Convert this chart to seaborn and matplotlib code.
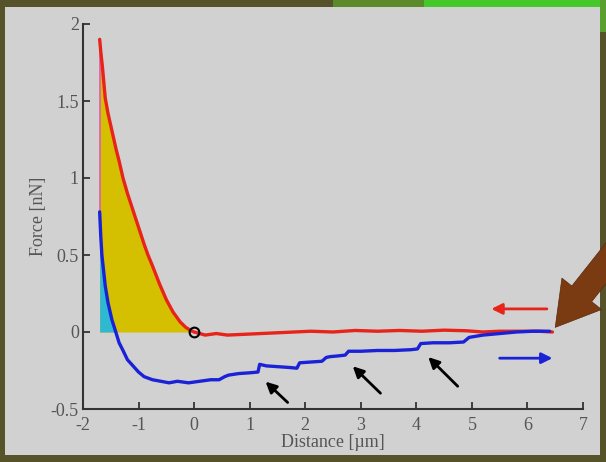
import matplotlib
matplotlib.use("Agg")
import matplotlib.pyplot as plt
from matplotlib.patches import Rectangle
import seaborn as sns
import pandas as pd

# ---- data ----
red_x = [-1.70, -1.68, -1.65, -1.60, -1.55, -1.50, -1.45, -1.40, -1.35, -1.28, -1.20,
         -1.10, -1.00, -0.90, -0.83, -0.75, -0.62, -0.50, -0.38, -0.25, -0.15, -0.05,
         0.00, 0.10, 0.20, 0.40, 0.60, 0.90, 1.20,
         1.50, 1.80, 2.10, 2.50, 2.90, 3.30, 3.70, 4.10, 4.50, 4.90, 5.20, 5.50, 5.90,
         6.20, 6.45]
red_f = [1.90, 1.82, 1.72, 1.52, 1.42, 1.34, 1.26, 1.18, 1.11, 1.00, 0.90,
         0.79, 0.68, 0.57, 0.50, 0.43, 0.31, 0.21, 0.13, 0.065, 0.03, 0.008,
         0.00, -0.01, -0.02, -0.01, -0.02, -0.015, -0.01,
         -0.005, 0.00, 0.005, 0.00, 0.01, 0.005, 0.01, 0.005, 0.012, 0.008, 0.00, 0.005,
         0.005, 0.005, 0.00]

blue_x = [-1.70, -1.68, -1.66, -1.60, -1.55, -1.48, -1.41, -1.35, -1.28, -1.20, -1.10,
          -1.00, -0.90, -0.75, -0.60, -0.45, -0.30, -0.10, 0.10, 0.30, 0.45, 0.55, 0.62,
          0.80, 1.00, 1.15, 1.18, 1.30, 1.50, 1.70, 1.85, 1.90, 2.10, 2.30, 2.38, 2.45,
          2.60, 2.72, 2.78, 3.00, 3.30, 3.60, 3.90, 4.02, 4.08, 4.30, 4.60, 4.85, 4.95,
          5.20, 5.50, 5.80, 6.10, 6.40]
blue_f = [0.78, 0.62, 0.50, 0.30, 0.19, 0.08, 0.00, -0.07, -0.12, -0.18, -0.22,
          -0.26, -0.29, -0.31, -0.32, -0.33, -0.32, -0.33, -0.32, -0.31, -0.31, -0.29, -0.28,
          -0.27, -0.265, -0.26, -0.21, -0.22, -0.225, -0.23, -0.235, -0.20, -0.195, -0.19,
          -0.165, -0.16, -0.155, -0.15, -0.125, -0.125, -0.12, -0.12, -0.115, -0.11, -0.075,
          -0.07, -0.07, -0.065, -0.035, -0.02, -0.01, 0.00, 0.005, 0.005]

x_ticks = [-2, -1, 0, 1, 2, 3, 4, 5, 6, 7]
y_ticks = [-0.5, 0, 0.5, 1, 1.5, 2]
x_tick_labels = ["-2", "-1", "0", "1", "2", "3", "4", "5", "6", "7"]
y_tick_labels = ["-0.5", "0", "0.5", "1", "1.5", "2"]
contact_point = (0.0, 0.0)

# black step arrows: (tail_x, tail_f, head_x, head_f)
step_arrows = [(1.72, -0.47, 1.25, -0.31),
               (3.39, -0.41, 2.82, -0.21),
               (4.78, -0.365, 4.18, -0.15)]

# ---- style ----
sns.set_theme(style="white")
plt.rcParams["font.family"] = ["Liberation Serif", "DejaVu Serif"]

PANEL = "#d1d1d1"
TXT = "#555555"

fig = plt.figure(figsize=(6.06, 4.62), dpi=100)
fig.patch.set_facecolor("#56522a")
fig.patches.append(Rectangle((5 / 606, 7 / 462), 595 / 606, 448 / 462,
                             transform=fig.transFigure, facecolor=PANEL,
                             edgecolor="none", zorder=-10))
fig.patches.append(Rectangle((0.55, 455 / 462), 0.15, 7 / 462,
                             transform=fig.transFigure, facecolor="#5a8a2a",
                             edgecolor="none", zorder=-10))
fig.patches.append(Rectangle((0.70, 455 / 462), 0.30, 7 / 462,
                             transform=fig.transFigure, facecolor="#44c82a",
                             edgecolor="none", zorder=-10))
fig.patches.append(Rectangle((600 / 606, 430 / 462), 6 / 606, 32 / 462,
                             transform=fig.transFigure, facecolor="#5aa030",
                             edgecolor="none", zorder=-10))

ax = fig.add_axes([83 / 606, 1 - 409 / 462, 500 / 606, 385 / 462])
ax.set_zorder(5)
ax.set_facecolor(PANEL)

red_df = pd.DataFrame({"x": red_x, "f": red_f})
blue_df = pd.DataFrame({"x": blue_x, "f": blue_f})

# fills
n_red_fill = red_x.index(0.00) + 1
ax.fill_between(red_x[:n_red_fill], red_f[:n_red_fill], 0, color="#d4bf00",
                linewidth=0, zorder=1)
n_blue_fill = blue_x.index(-1.41) + 1
ax.fill_between(blue_x[:n_blue_fill], blue_f[:n_blue_fill], 0, color="#2fb8d2",
                linewidth=0, zorder=2)

# magenta connector
ax.plot([red_x[0], red_x[0]], [blue_f[0], red_f[0]], color="#e05ca8", lw=1.2, zorder=3)

sns.lineplot(data=red_df, x="x", y="f", sort=False, color="#e8231a", lw=2.4,
             ax=ax, zorder=4)
sns.lineplot(data=blue_df, x="x", y="f", sort=False, color="#1a22d8", lw=2.4,
             ax=ax, zorder=5)

ax.plot([contact_point[0]], [contact_point[1]], marker="o", ms=7, mfc="none",
        mec="black", mew=1.5, zorder=6)

# direction arrows
ax.annotate("", xy=(5.3, 0.15), xytext=(6.4, 0.15),
            arrowprops=dict(arrowstyle="-|>", color="#e8231a", lw=2,
                            mutation_scale=16), zorder=6)
ax.annotate("", xy=(6.5, -0.17), xytext=(5.45, -0.17),
            arrowprops=dict(arrowstyle="-|>", color="#1a22d8", lw=2,
                            mutation_scale=16), zorder=6)
for tx, tf, hx, hf in step_arrows:
    ax.annotate("", xy=(hx, hf), xytext=(tx, tf),
                arrowprops=dict(arrowstyle="-|>", color="black", lw=2,
                                mutation_scale=16), zorder=6)

# big brown arrow
ax.annotate("", xy=(6.5, 0.03), xytext=(7.75, 0.6), annotation_clip=False,
            arrowprops=dict(arrowstyle="simple,head_width=2.6,head_length=2.2,tail_width=1.3",
                            fc="#7a3a12", ec="#5a2a0a", lw=0.5, mutation_scale=14,
                            clip_on=False, shrinkA=0, shrinkB=0), zorder=7)

ax.set_xlim(-2, 7)
ax.set_ylim(-0.5, 2)
ax.set_xticks(x_ticks)
ax.set_xticklabels(x_tick_labels)
ax.set_yticks(y_ticks)
ax.set_yticklabels(y_tick_labels)
ax.tick_params(direction="in", length=5, width=1.3, colors="#333333",
               labelcolor=TXT, labelsize=13, left=True, bottom=True)
ax.tick_params(axis="x", pad=6)
ax.tick_params(axis="y", pad=3)
for s in ["top", "right"]:
    ax.spines[s].set_visible(False)
for s in ["left", "bottom"]:
    ax.spines[s].set_color("#333333")
    ax.spines[s].set_linewidth(1.5)

ax.set_xlabel("Distance [µm]", color=TXT, fontsize=13, labelpad=0)
ax.set_ylabel("Force [nN]", color=TXT, fontsize=13, labelpad=3)

fig.savefig("out.png", dpi=100, facecolor=fig.get_facecolor())
